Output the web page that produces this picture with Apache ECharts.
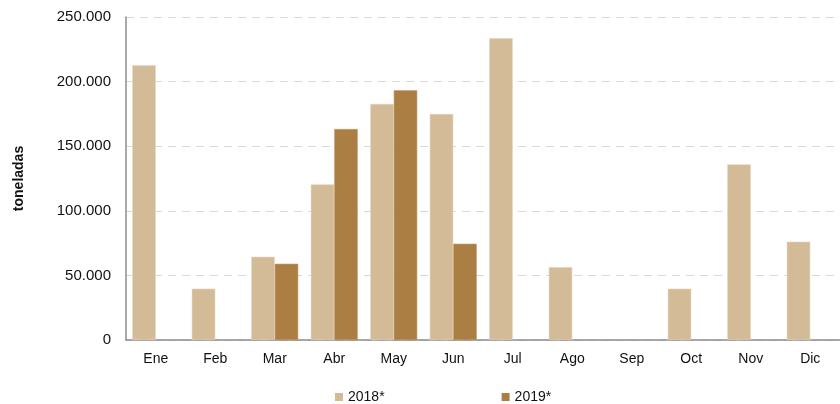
<!DOCTYPE html>
<html>
<head>
<meta charset="utf-8">
<script src="https://cdn.jsdelivr.net/npm/echarts@6/dist/echarts.min.js"></script>
<style>
  html, body { margin: 0; padding: 0; background: #fff; }
  #chart { width: 840px; height: 404px; }
</style>
</head>
<body>
<div id="chart"></div>
<script>
const months = ['Ene', 'Feb', 'Mar', 'Abr', 'May', 'Jun', 'Jul', 'Ago', 'Sep', 'Oct', 'Nov', 'Dic']
// toneladas
const serie2018 = [212600, 39700, 64400, 120400, 182700, 174900, 233500, 56400, null, 39700, 135900, 76100]
const serie2019 = [null, null, 59000, 163300, 193300, 74500, null, null, null, null, null, null]
const yTicks = { min: 0, max: 250000, interval: 50000 }

function miles (v) {
  return String(v).replace(/\B(?=(\d{3})+(?!\d))/g, '.')
}

const chart = echarts.init(document.getElementById('chart'), null, { renderer: 'canvas' })
const font = 'Liberation Sans, Arial, Helvetica, sans-serif'

const option = {
  animation: false,
  textStyle: { fontFamily: font },
  grid: { left: 126, right: -1, top: 17, bottom: 64 },
  legend: {
    left: 330,
    top: 385,
    itemWidth: 8,
    itemHeight: 8,
    itemGap: 117,
    icon: 'rect',
    itemStyle: { borderWidth: 0 },
    textStyle: { color: '#111', fontSize: 14, fontFamily: font },
    data: ['2018*', '2019*']
  },
  xAxis: {
    type: 'category',
    data: months,
    axisLine: { lineStyle: { color: '#8c8c8c', width: 1.5 } },
    axisTick: { inside: true, length: 4, lineStyle: { color: '#8c8c8c' } },
    axisLabel: { color: '#111', fontSize: 14, margin: 12 }
  },
  yAxis: {
    type: 'value',
    min: yTicks.min,
    max: yTicks.max,
    interval: yTicks.interval,
    name: 'toneladas',
    nameLocation: 'middle',
    nameGap: 100,
    nameTextStyle: { fontWeight: 'bold', fontSize: 14, color: '#111' },
    axisLine: { show: true, lineStyle: { color: '#8c8c8c', width: 1.5 } },
    axisTick: { show: false },
    axisLabel: { color: '#111', fontSize: 15, margin: 15, formatter: miles },
    splitLine: { lineStyle: { color: '#d9d9d9', type: [8, 6], width: 1.2 } }
  },
  series: [
    {
      name: '2018*',
      type: 'bar',
      data: serie2018,
      barGap: '0%',
      barCategoryGap: '21%',
      itemStyle: { color: '#d3bb98', borderColor: '#e3d4bd', borderWidth: 0.6 }
    },
    {
      name: '2019*',
      type: 'bar',
      data: serie2019,
      itemStyle: { color: '#ab7f43', borderColor: '#c29c66', borderWidth: 0.6 }
    }
  ]
}

chart.setOption(option)
</script>
</body>
</html>
